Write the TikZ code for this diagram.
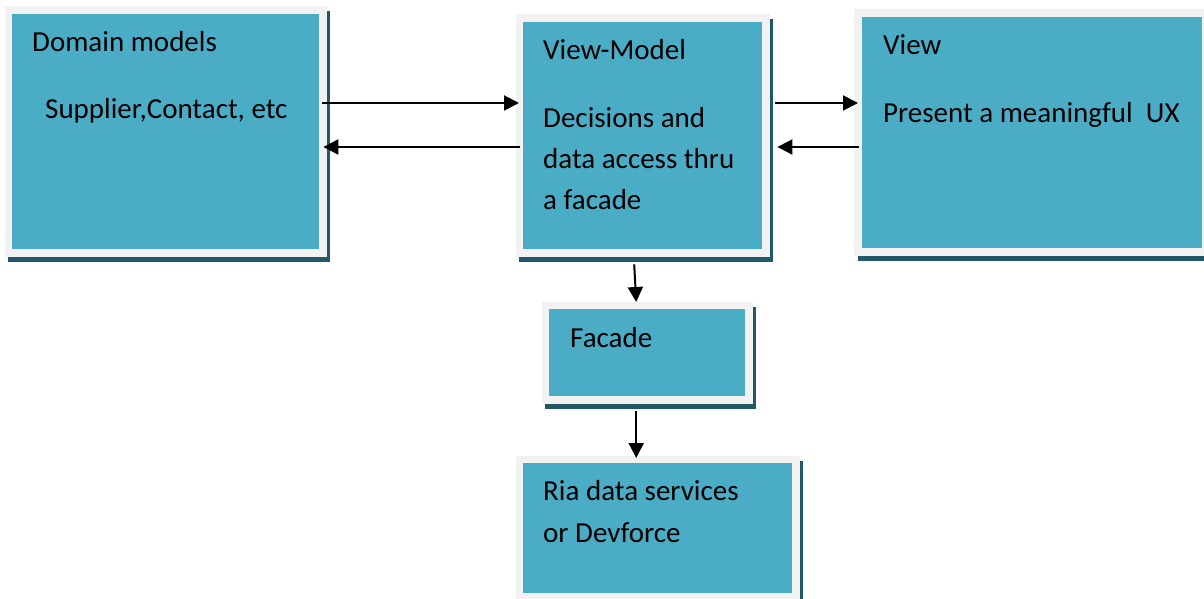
\documentclass[tikz,border=0pt]{standalone}
\usepackage{fontspec}
\setmainfont{Carlito}
\usetikzlibrary{arrows.meta,calc}
\definecolor{panelfill}{HTML}{4BACC6}
\definecolor{panelframe}{HTML}{F2F2F2}
\definecolor{panelshadow}{HTML}{215968}
\tikzset{
  shadowrect/.style={fill=panelshadow,draw=none},
  framerect/.style={fill=panelframe,draw=none},
  panel/.style={fill=panelfill,draw=none,inner sep=0pt,anchor=north west},
  lbl/.style={anchor=base west,inner sep=0pt,font=\fontsize{29}{40}\selectfont},
  arr/.style={-{Triangle[length=15pt,width=15pt]},line width=2pt,black}
}
% #1 name, (#2,#3)-(#4,#5) inner panel, #6 frame width
\newcommand\mvvmpanel[6]{%
  \fill[shadowrect] ({#2-#6+3.5},{#3-#6+5}) rectangle ({#4+#6+3.5},{#5+#6+5});
  \fill[framerect] ({#2-#6},{#3-#6}) rectangle ({#4+#6},{#5+#6});
  \node[panel,minimum width={(#4-#2)*1pt},minimum height={(#5-#3)*1pt}] (#1) at (#2,#3) {};
}
\begin{document}
\begin{tikzpicture}[x=1pt,y=-1pt]
\useasboundingbox (0,0) rectangle (1204,599);
\fill[white] (0,0) rectangle (1204,599);

\mvvmpanel{dm}{12}{14}{319}{249}{7.5}
\mvvmpanel{vm}{523}{22}{762}{249}{7.5}
\mvvmpanel{vw}{862}{17}{1202}{248}{8}
\mvvmpanel{fc}{549}{309}{745}{396}{7.5}
\mvvmpanel{ria}{523}{463}{792}{593}{7.5}

% texts
\node[lbl] (dmt) at (32,52) {Domain models};
\node[lbl] (dms) at (45,119) {Supplier,Contact, etc};
\node[lbl] (vmt) at (543,60) {View-Model};
\node[lbl] (vm1) at (543,128) {Decisions and};
\node[lbl] (vm2) at (543,168) {data access thru};
\node[lbl] (vm3) at (543,209) {a facade};
\node[lbl] (vwt) at (883,55) {View};
\node[lbl] (vws) at (883,123) {Present a meaningful\ \ UX};
\node[lbl] (fct) at (570,347) {Facade};
\node[lbl] (ri1) at (543,500) {Ria data services};
\node[lbl] (ri2) at (543,542) {or Devforce};

% connectors
\draw[arr] ($(dm.north east)+(3,89)$) -- ($(vm.north west)+(-4,81)$);
\draw[arr] ($(vm.north west)+(-3,125)$) -- ($(dm.north east)+(4,133)$);
\draw[arr] ($(vm.north east)+(13,81)$) -- ($(vw.north west)+(-4,86)$);
\draw[arr] ($(vw.north west)+(-3,130)$) -- ($(vm.north east)+(15,125)$);
\draw[arr] ($(vm.south)+(-8.5,15)$) -- ($(fc.north)+(-11,-7)$);
\draw[arr] ($(fc.south)+(-11,15)$) -- ($(ria.north)+(-21.5,-5)$);
\end{tikzpicture}
\end{document}
